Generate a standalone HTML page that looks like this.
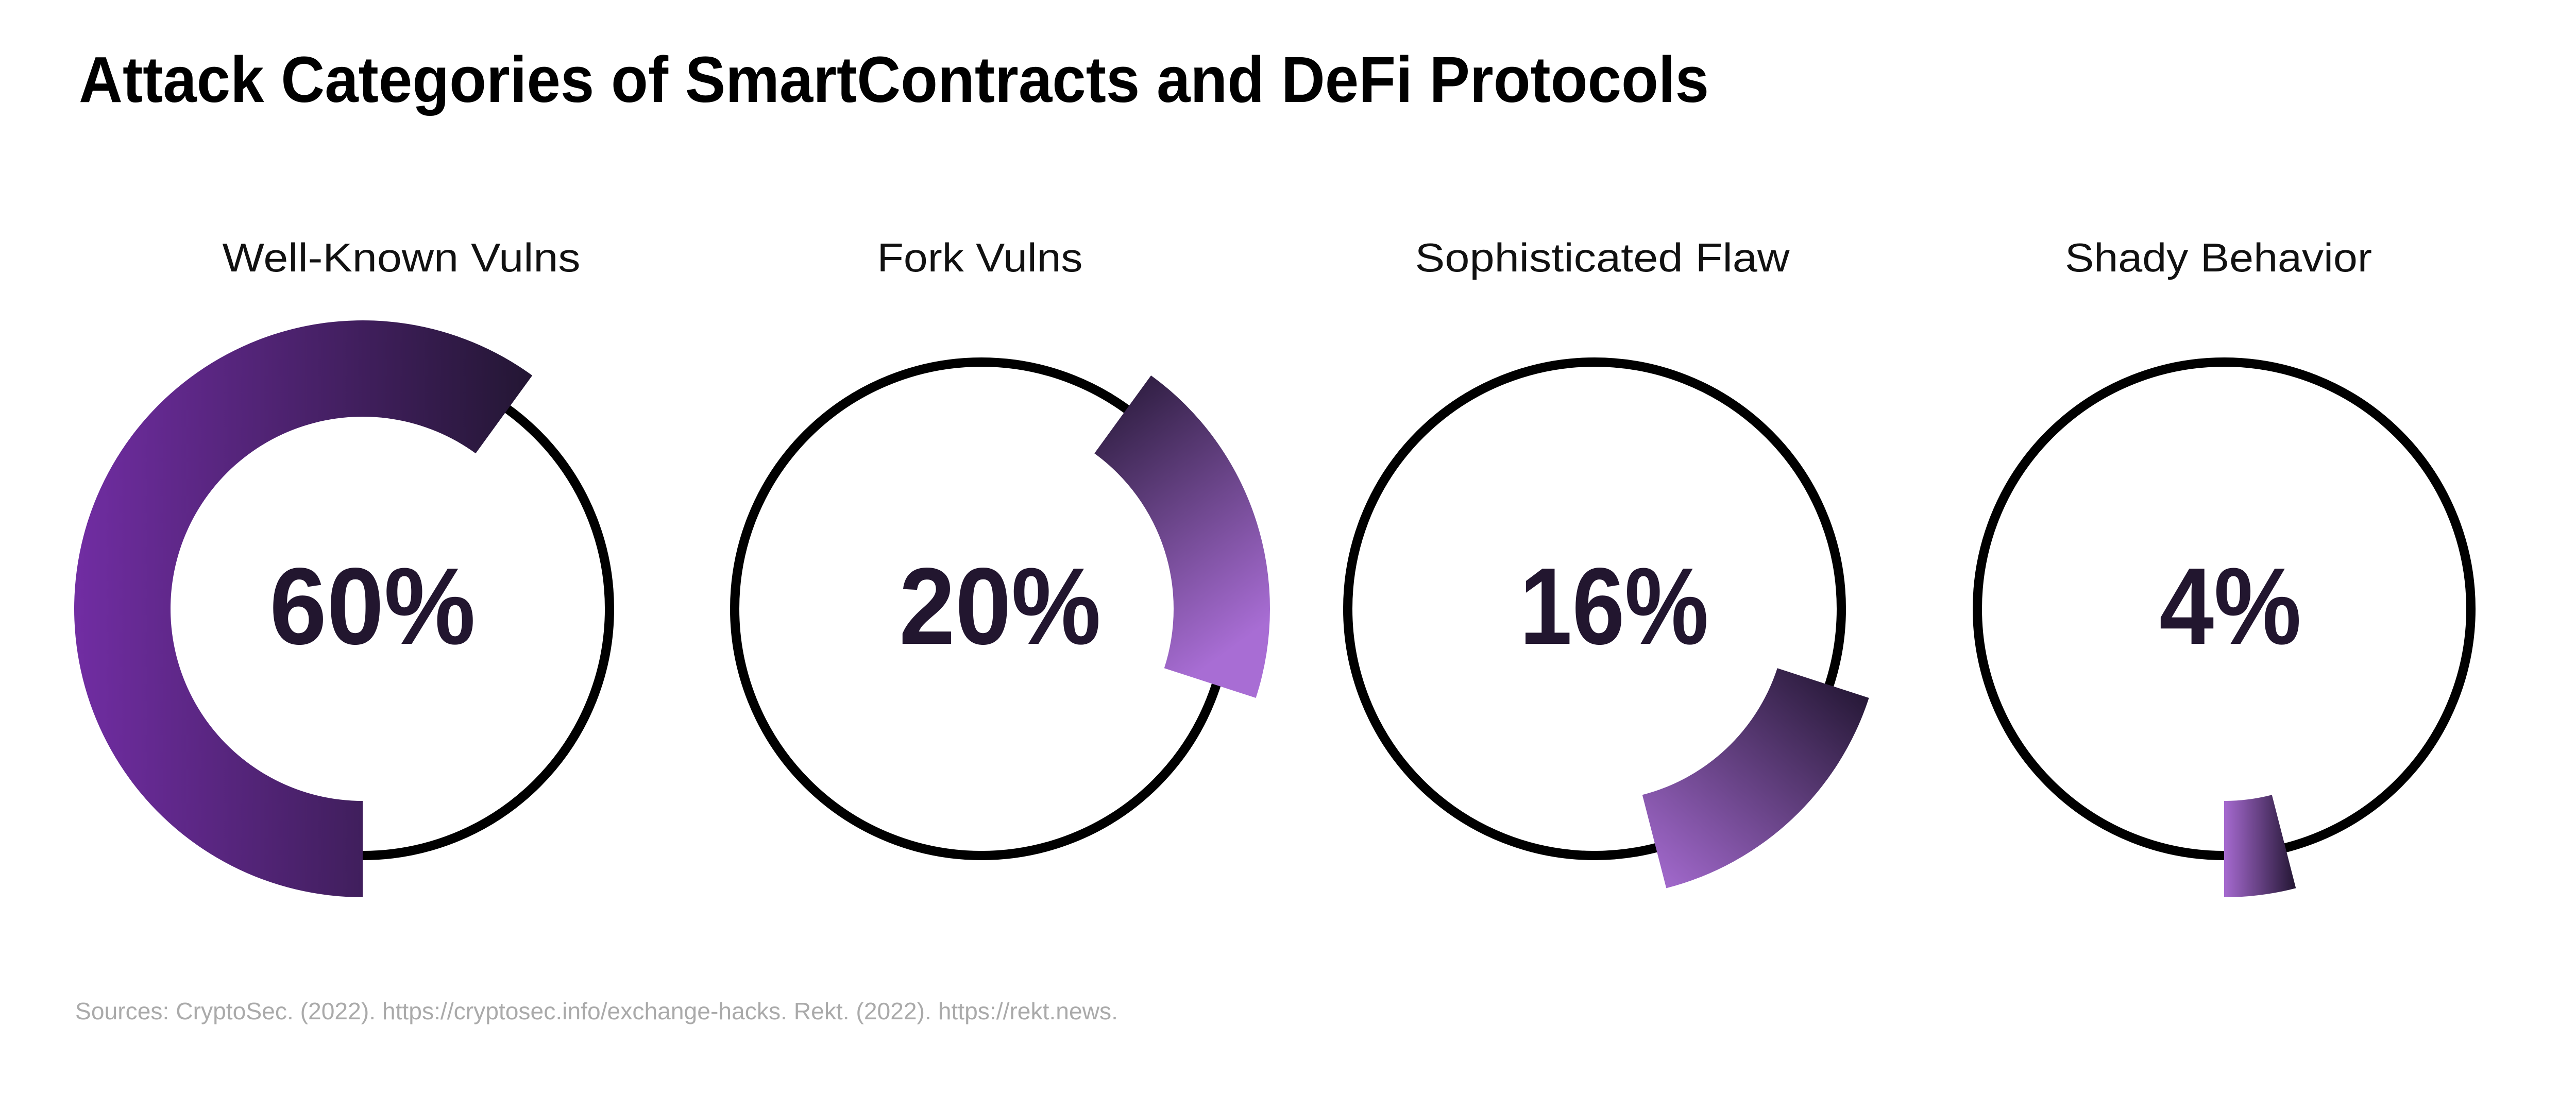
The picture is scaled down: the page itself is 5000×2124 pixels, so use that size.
<!DOCTYPE html>
<html><head><meta charset="utf-8"><style>
html,body{margin:0;padding:0;background:#fff;}
svg{display:block;}
text{font-family:"Liberation Sans",sans-serif;}
</style></head><body>
<svg id="chart" width="5000" height="2124" viewBox="0 0 5000 2124" xmlns="http://www.w3.org/2000/svg">
<defs>
<linearGradient id="g0" x1="0" y1="0" x2="1" y2="0"><stop offset="0" stop-color="#712da3"/><stop offset="1" stop-color="#231633"/></linearGradient>
<linearGradient id="g1" x1="0" y1="0" x2="0.4" y2="1"><stop offset="0" stop-color="#231633"/><stop offset="1" stop-color="#a86dd4"/></linearGradient>
<linearGradient id="g2" x1="0" y1="1" x2="0.9" y2="0"><stop offset="0" stop-color="#a86dd4"/><stop offset="1" stop-color="#231633"/></linearGradient>
<linearGradient id="g3" x1="0" y1="0" x2="1" y2="0"><stop offset="0" stop-color="#a66ad0"/><stop offset="1" stop-color="#231633"/></linearGradient>
</defs>
<rect width="5000" height="2124" fill="#fff"/>
<text x="153" y="198" font-size="126" font-weight="bold" fill="#000" textLength="3164" lengthAdjust="spacingAndGlyphs">Attack Categories of SmartContracts and DeFi Protocols</text>
<text x="146" y="1979" font-size="46" fill="#aaaaaa" textLength="2024" lengthAdjust="spacingAndGlyphs">Sources:  CryptoSec. (2022). https://cryptosec.info/exchange-hacks. Rekt. (2022). https://rekt.news.</text>
<g id="donuts"></g>
</svg>
<script>
const categories = ["Well-Known Vulns", "Fork Vulns", "Sophisticated Flaw", "Shady Behavior"];
const values = [60, 20, 16, 4];
const valueLabels = ["60%", "20%", "16%", "4%"];

const centersX = [704, 1905, 3095, 4317];
const cy = 1182, rCircle = 479, rIn = 373, rOut = 560;
const labelWidths = [695, 399, 727, 596];
const pctWidths = [400, 392, 367, 276];
const pctOffsetX = [19, 36, 38, 12];
const NS = "http://www.w3.org/2000/svg";
const g = document.getElementById("donuts");
const total = values.reduce((a,b)=>a+b,0);

function pt(cx, r, frac){ // frac from bottom, clockwise on screen (via left)
  const a = frac*2*Math.PI;
  return [cx - r*Math.sin(a), cy + r*Math.cos(a)];
}
let cum = 0;
values.forEach((v,i)=>{
  const cx = centersX[i];
  const c = document.createElementNS(NS,"circle");
  
  
  c.setAttribute("cx",cx); c.setAttribute("cy",cy); c.setAttribute("r",rCircle);
  c.setAttribute("fill","none"); c.setAttribute("stroke","#000"); c.setAttribute("stroke-width","18");
  g.appendChild(c);

  const f0 = cum/total, f1 = (cum+v)/total; cum += v;
  const large = (f1-f0) > 0.5 ? 1 : 0;
  const a = pt(cx,rOut,f0), b = pt(cx,rOut,f1), d = pt(cx,rIn,f1), e = pt(cx,rIn,f0);
  const p = document.createElementNS(NS,"path");
  
  
  p.setAttribute("d",`M${a[0]},${a[1]} A${rOut},${rOut} 0 ${large} 1 ${b[0]},${b[1]} L${d[0]},${d[1]} A${rIn},${rIn} 0 ${large} 0 ${e[0]},${e[1]} Z`);
  p.setAttribute("fill",`url(#g${i})`);
  g.appendChild(p);

  const t = document.createElementNS(NS,"text");
  
  
  t.setAttribute("x",cx+pctOffsetX[i]); t.setAttribute("y",cy+68);
  t.setAttribute("text-anchor","middle"); t.setAttribute("font-size","212");
  t.setAttribute("font-weight","bold"); t.setAttribute("fill","#22162f");
  t.setAttribute("textLength",pctWidths[i]); t.setAttribute("lengthAdjust","spacingAndGlyphs");
  t.textContent = valueLabels[i];
  g.appendChild(t);

  const l = document.createElementNS(NS,"text");
  
  
  l.setAttribute("x",cx + [75,-3,15,-11][i]); l.setAttribute("y",527);
  l.setAttribute("text-anchor","middle"); l.setAttribute("font-size","78");
  l.setAttribute("fill","#111"); l.setAttribute("textLength",labelWidths[i]);
  l.setAttribute("lengthAdjust","spacingAndGlyphs");
  l.textContent = categories[i];
  g.appendChild(l);
});
</script>
</body></html>
